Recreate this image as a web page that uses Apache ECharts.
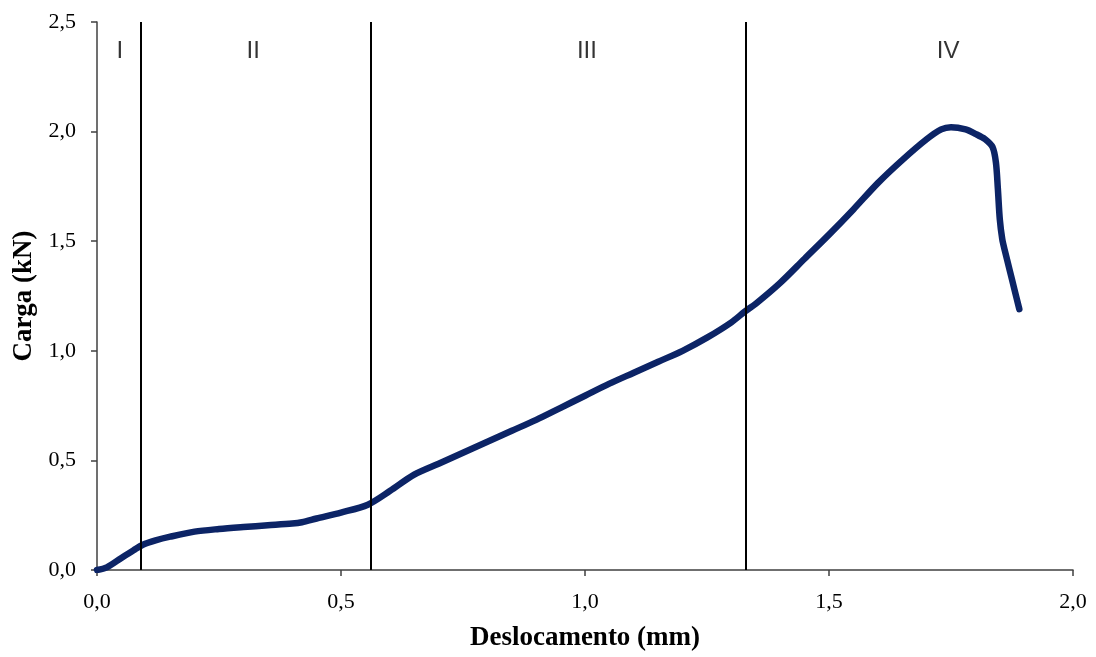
<!DOCTYPE html>
<html><head><meta charset="utf-8">
<script src="https://cdn.jsdelivr.net/npm/echarts@6/dist/echarts.min.js"></script>
<style>html,body{margin:0;padding:0;background:#fff}#c{width:1096px;height:657px}</style>
</head><body><div id="c"></div>
<script>
const dispX = [0.0,0.02,0.05,0.075,0.094,0.12,0.15,0.2,0.25,0.3,0.35,0.4,0.42,0.45,0.5,0.555,0.6,0.65,0.7,0.75,0.8,0.85,0.9,0.95,1.0,1.05,1.1,1.15,1.2,1.25,1.3,1.328,1.35,1.4,1.45,1.5,1.55,1.6,1.65,1.7,1.73,1.75,1.78,1.8,1.82,1.835,1.842,1.846,1.85,1.855,1.86,1.87,1.88,1.89];
const loadY = [0.0,0.012,0.055,0.09,0.115,0.135,0.152,0.175,0.187,0.196,0.204,0.212,0.218,0.235,0.262,0.298,0.36,0.435,0.485,0.535,0.585,0.635,0.685,0.74,0.795,0.85,0.9,0.95,1.0,1.06,1.13,1.18,1.215,1.31,1.42,1.53,1.645,1.765,1.87,1.965,2.01,2.02,2.01,1.99,1.965,1.93,1.86,1.74,1.6,1.51,1.46,1.37,1.28,1.19];
const dividers = [0.094, 0.555, 1.328];
const regionNames = ['I','II','III','IV'];
const regionX = [0.047, 0.32, 1.004, 1.744];
const regionY = 2.368;
const xTicks = {min:0, max:2.0, interval:0.5};
const yTicks = {min:0, max:2.5, interval:0.5};

const comma = v => v.toFixed(1).replace('.', ',');
const chart = echarts.init(document.getElementById('c'));
chart.setOption({
  animation:false,
  backgroundColor:'#fff',
  grid:{left:97, right:23, top:22, bottom:87, containLabel:false},
  xAxis:{type:'value', min:xTicks.min, max:xTicks.max, interval:xTicks.interval,
    name:'Deslocamento (mm)', nameLocation:'middle', nameGap:55,
    nameTextStyle:{fontFamily:'Liberation Serif', fontWeight:'bold', fontSize:27, color:'#000'},
    axisLine:{lineStyle:{color:'#404040', width:1.5}},
    axisTick:{show:true, length:6, inside:false, lineStyle:{color:'#404040', width:1.5}},
    axisLabel:{formatter:comma, fontFamily:'Liberation Serif', fontSize:22, color:'#000', margin:21},
    splitLine:{show:false}},
  yAxis:{type:'value', min:yTicks.min, max:yTicks.max, interval:yTicks.interval,
    name:'Carga (kN)', nameLocation:'middle', nameGap:58, nameRotate:90,
    nameTextStyle:{fontFamily:'Liberation Serif', fontWeight:'bold', fontSize:27, color:'#000'},
    axisLine:{show:true, lineStyle:{color:'#404040', width:1.5}},
    axisTick:{show:true, length:6, inside:false, lineStyle:{color:'#404040', width:1.5}},
    axisLabel:{formatter:comma, fontFamily:'Liberation Serif', fontSize:22, color:'#000', margin:21},
    splitLine:{show:false}},
  series:[
    {type:'line', data:dispX.map((x,i)=>[x, loadY[i]]), showSymbol:false, smooth:0.3,
     lineStyle:{color:'#0c2466', width:6.5, cap:'round', join:'round'}, z:3,
     markLine:{silent:true, symbol:['none','none'], label:{show:false},
       lineStyle:{color:'#000', width:2, type:'solid'},
       data: dividers.map(d=>({xAxis:d}))}},
    {type:'scatter', data:regionX.map((x,i)=>[x, regionY, regionNames[i]]), symbolSize:0,
     label:{show:true, position:'inside', formatter:p=>p.data[2],
       fontFamily:'Liberation Sans', fontSize:24, color:'#000'}, z:4}
  ]
});
</script></body></html>
